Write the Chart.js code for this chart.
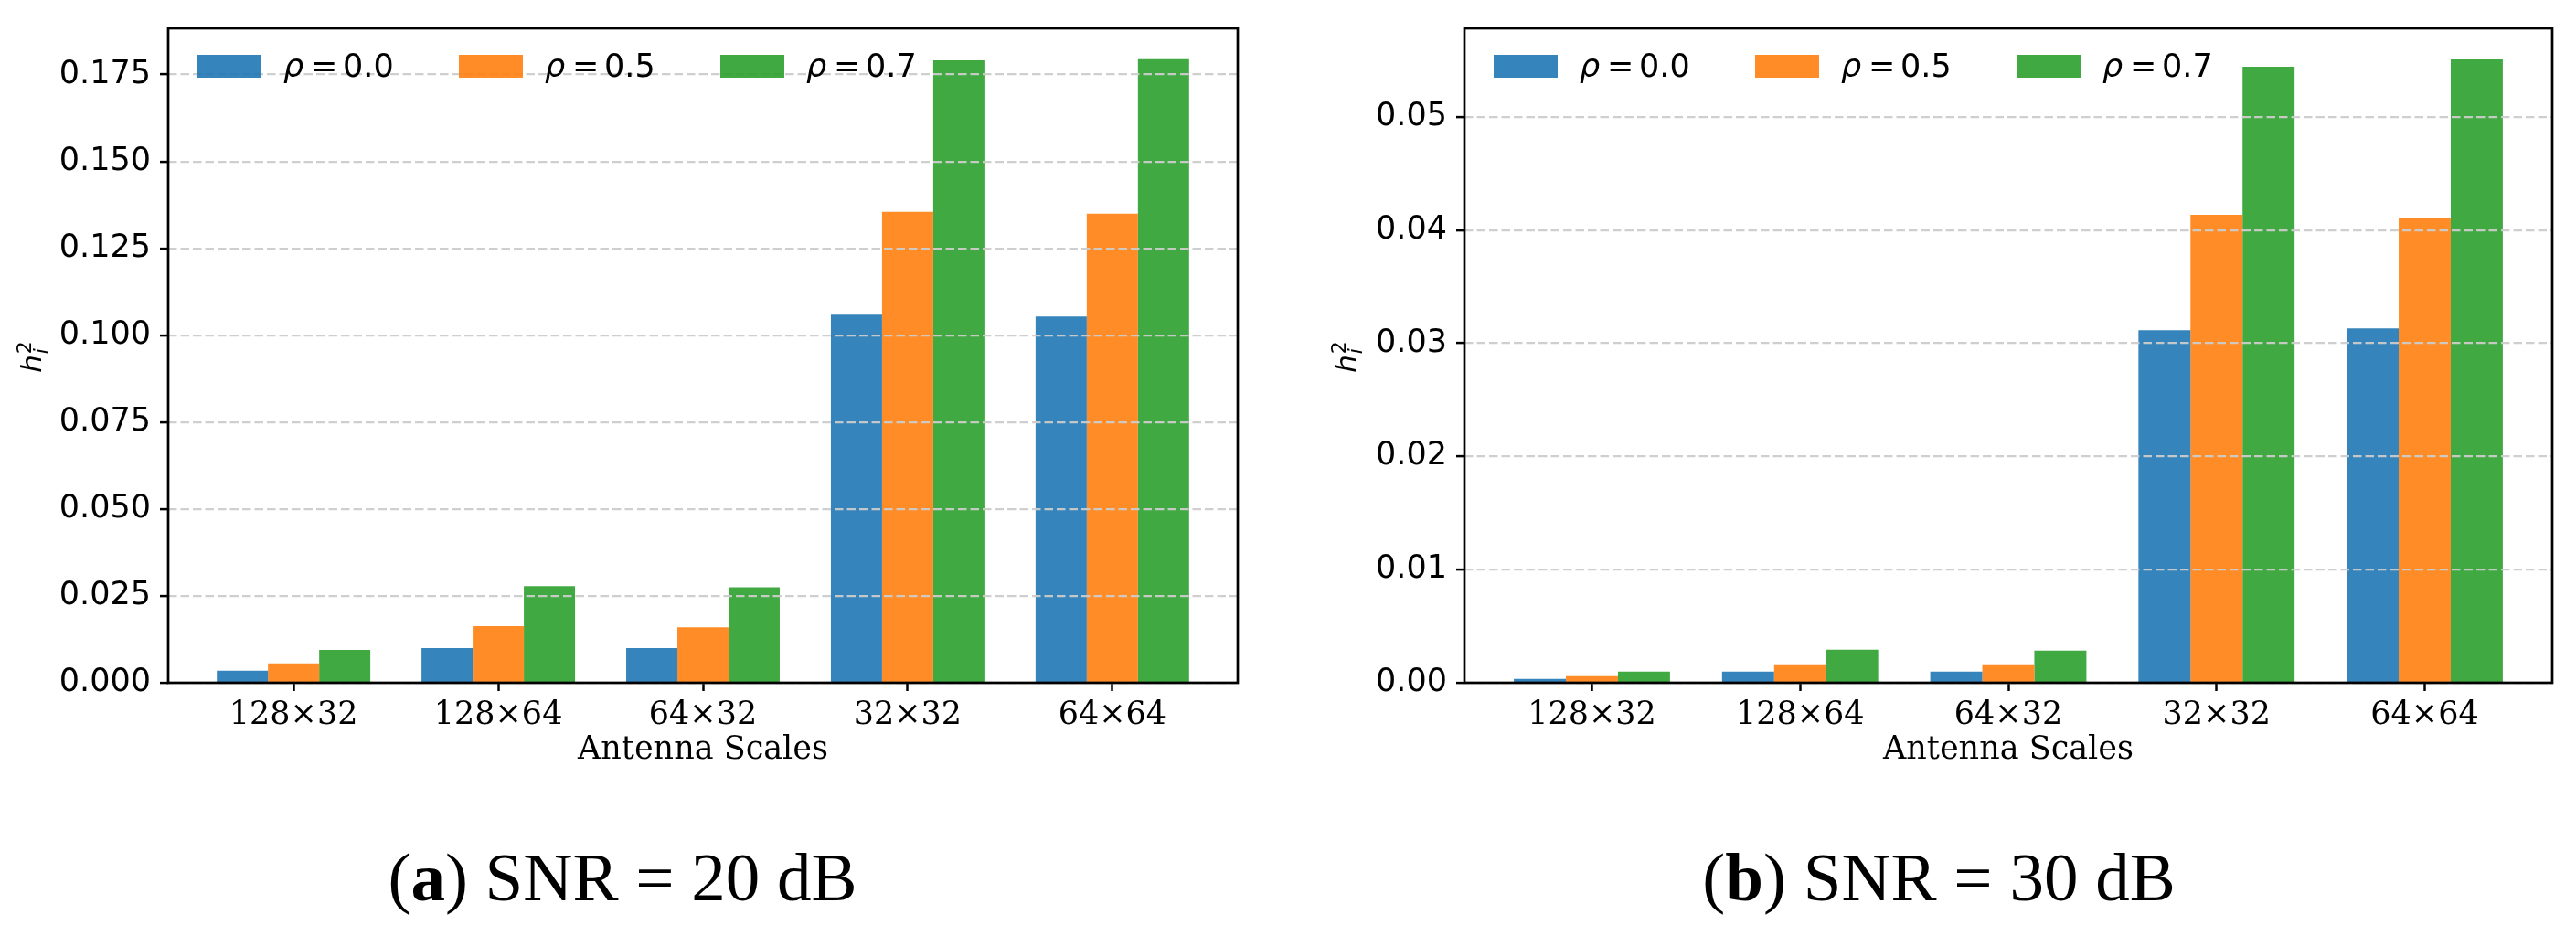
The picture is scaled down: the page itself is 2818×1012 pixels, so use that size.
<!DOCTYPE html>
<html><head><meta charset="utf-8">
<script src="https://cdn.jsdelivr.net/npm/chart.js@4.4.1/dist/chart.umd.min.js"></script>
<style>
html,body{margin:0;padding:0;background:#fff;}
#wrap{position:relative;width:2818px;height:1012px;overflow:hidden;background:#fff;}
canvas{position:absolute;top:0;}
.cap{position:absolute;font-family:"Liberation Serif","Times New Roman",serif;font-size:75px;line-height:75px;white-space:nowrap;transform:translateX(-50%);color:#000;}
.cap b{font-weight:bold;}
</style></head><body>
<div id="wrap">
<canvas id="c1" width="1409" height="870" style="left:0px;width:1409px;height:870px"></canvas>
<canvas id="c2" width="1409" height="870" style="left:1409px;width:1409px;height:870px"></canvas>
<div class="cap" style="left:681px;top:922px">(<b>a</b>) SNR = 20 dB</div>
<div class="cap" style="left:2121px;top:922px">(<b>b</b>) SNR = 30 dB</div>
</div>
<script>
// ---- data ----
const categories = ['128×32', '128×64', '64×32', '32×32', '64×64'];
const rhoValues = ['0.0', '0.5', '0.7'];

const snr20_rho00 = [0.0035, 0.0100, 0.0100, 0.1059, 0.1054];
const snr20_rho05 = [0.0056, 0.0163, 0.0160, 0.1355, 0.1350];
const snr20_rho07 = [0.0095, 0.0278, 0.0275, 0.1791, 0.1794];

const snr30_rho00 = [0.00035, 0.00099, 0.00099, 0.03116, 0.03132];
const snr30_rho05 = [0.00059, 0.00163, 0.00163, 0.04136, 0.04104];
const snr30_rho07 = [0.00099, 0.00292, 0.00284, 0.05444, 0.05508];

const yTicks20 = [0, 0.025, 0.05, 0.075, 0.1, 0.125, 0.15, 0.175];
const yTicks30 = [0, 0.01, 0.02, 0.03, 0.04, 0.05];
const yMax20 = 0.1883;
const yMax30 = 0.05783;

const xLabel = 'Antenna Scales';
const colors = ['rgba(31,119,180,0.9)', 'rgba(255,127,14,0.9)', 'rgba(44,160,44,0.9)'];

// ---- plugins ----
const decorPlugin = {
  id: 'decor',
  afterDraw(chart, args, opts) {
    const ctx = chart.ctx;
    const ca = chart.chartArea;
    ctx.save();
    // spines
    ctx.strokeStyle = '#000';
    ctx.lineWidth = 2.7;
    ctx.setLineDash([]);
    ctx.strokeRect(ca.left, ca.top, ca.right - ca.left, ca.bottom - ca.top);
    // legend
    chart.data.datasets.forEach((ds, k) => {
      const px = ca.left + 32 + k * 286;
      ctx.fillStyle = ds.backgroundColor;
      ctx.fillRect(px, 60, 70, 25);
      ctx.fillStyle = '#000';
      ctx.textBaseline = 'alphabetic';
      ctx.textAlign = 'left';
      ctx.font = 'italic 35px "DejaVu Sans"';
      ctx.fillText('ρ', px + 94, 84);
      ctx.font = '35px "DejaVu Sans"';
      ctx.fillText('=', px + 124, 84);
      ctx.fillText(ds.rho, px + 159, 84);
    });
    // y title h_i^2
    ctx.translate(opts.titleX, 390);
    ctx.rotate(-Math.PI / 2);
    ctx.fillStyle = '#000';
    ctx.font = 'italic 31px "DejaVu Sans"';
    const wh = ctx.measureText('h').width;
    ctx.font = '22px "DejaVu Sans"';
    const w2 = ctx.measureText('2').width;
    const total = wh + w2 + 2;
    const sx = -total / 2;
    ctx.font = 'italic 31px "DejaVu Sans"';
    ctx.fillText('h', sx, 0);
    ctx.font = '22px "DejaVu Sans"';
    ctx.fillText('2', sx + wh + 1, -11);
    ctx.font = 'italic 22px "DejaVu Sans"';
    ctx.fillText('i', sx + wh + 1, 7);
    ctx.restore();
  }
};

function makeChart(id, series, yTicks, yMax, decimals, yWidth, rightPad, titleX) {
  const datasets = series.map((s, k) => ({
    label: 'ρ = ' + rhoValues[k],
    rho: rhoValues[k],
    data: s.map((v, i) => ({x: i, y: v})),
    backgroundColor: colors[k],
    borderWidth: 0,
    categoryPercentage: 0.75,
    barPercentage: 1.0
  }));
  return new Chart(document.getElementById(id), {
    type: 'bar',
    data: {datasets},
    plugins: [decorPlugin],
    options: {
      responsive: false,
      devicePixelRatio: 1,
      animation: false,
      events: [],
      layout: {padding: {left: 0, top: 27, right: rightPad, bottom: 0}},
      plugins: {
        legend: {display: false},
        tooltip: {enabled: false},
        decor: {titleX}
      },
      scales: {
        x: {
          type: 'linear',
          offset: false,
          min: -0.6125,
          max: categories.length - 1 + 0.6125,
          afterBuildTicks: s => { s.ticks = categories.map((c, i) => ({value: i})); },
          afterFit: s => { s.height = 123; },
          ticks: {
            callback: v => categories[v],
            font: {family: 'DejaVu Serif', size: 35},
            color: '#000',
            padding: 6,
            maxRotation: 0,
            autoSkip: false
          },
          grid: {offset: false, drawOnChartArea: false, drawTicks: true, tickLength: 9, tickWidth: 2.5, tickColor: '#000', color: '#000'},
          border: {display: false},
          title: {display: true, text: xLabel, font: {family: 'DejaVu Serif', size: 35}, color: '#000', padding: {top: 0, bottom: 28}}
        },
        y: {
          min: 0,
          max: yMax,
          afterBuildTicks: s => { s.ticks = yTicks.map(v => ({value: v})); },
          afterFit: s => { s.width = yWidth; },
          ticks: {
            callback: v => Number(v).toFixed(decimals),
            font: {family: 'DejaVu Sans', size: 35},
            color: '#000',
            padding: 10
          },
          grid: {z: 1, color: 'rgba(204,204,204,0.95)', lineWidth: 2.2, drawTicks: true, tickLength: 9, tickWidth: 2.5, tickColor: '#000', tickBorderDash: []},
          border: {display: false, dash: [9.5, 4]}
        }
      }
    }
  });
}

makeChart('c1', [snr20_rho00, snr20_rho05, snr20_rho07], yTicks20, yMax20, 3, 184, 55, 45);
makeChart('c2', [snr30_rho00, snr30_rho05, snr30_rho07], yTicks30, yMax30, 2, 193, 26, 74);
</script>
</body></html>
